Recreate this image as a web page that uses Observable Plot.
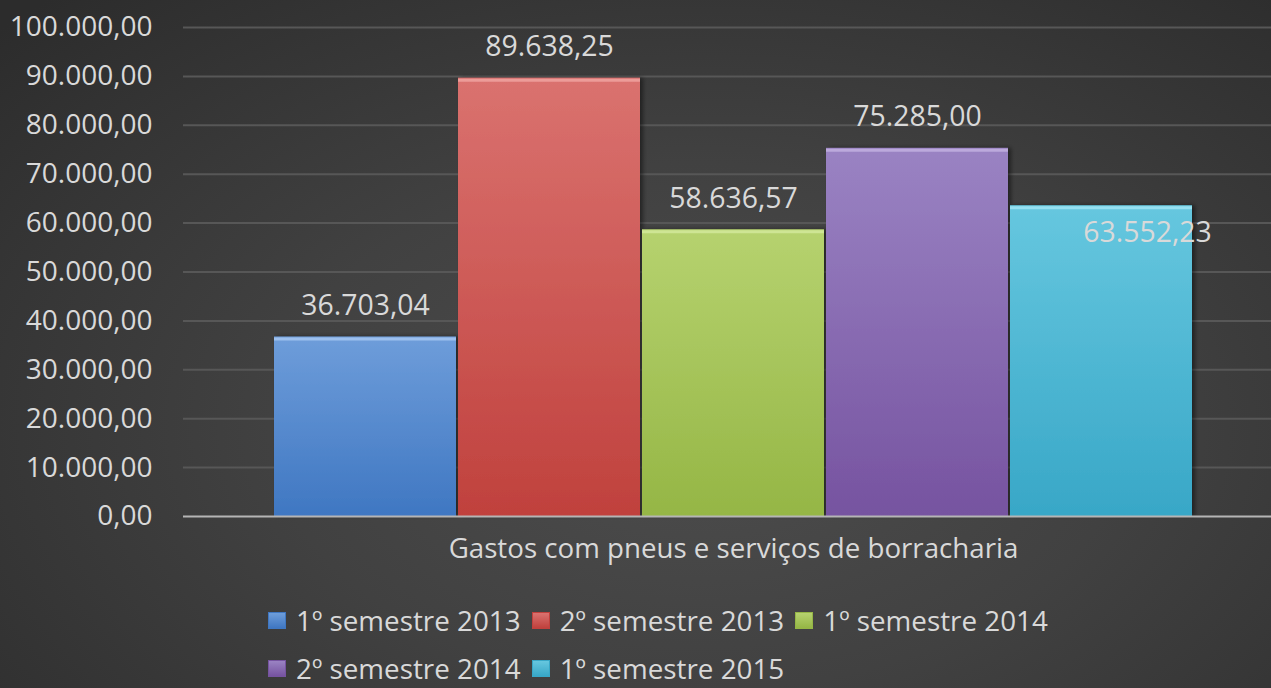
<!DOCTYPE html>
<html>
<head>
<meta charset="utf-8">
<script src="https://cdn.jsdelivr.net/npm/d3@7"></script>
<script src="https://cdn.jsdelivr.net/npm/@observablehq/plot@0.6"></script>
<style>
  html, body { margin: 0; padding: 0; width: 1271px; height: 688px; overflow: hidden; }
  body {
    background: radial-gradient(ellipse 75% 85% at 55% 62%, #4d4d4d 0%, #414141 45%, #2c2c2c 100%);
    font-family: "Open Sans", sans-serif;
  }
  #chart svg { display: block; }
  #legend {
    display: flex; flex-wrap: wrap; width: 820px;
    margin-left: 268px; padding-top: 6px;
    line-height: 48px; font-size: 27.8px; color: #d9d9d9;
  }
  .item { display: inline-flex; align-items: center; margin-right: 11px; }
  .sw { width: 18px; height: 17px; margin-right: 10px; box-sizing: border-box; }
</style>
</head>
<body>
<div id="chart"></div>
<div id="legend"></div>
<script>
const series = ["1º semestre 2013", "2º semestre 2013", "1º semestre 2014", "2º semestre 2014", "1º semestre 2015"];
const values = [36703.04, 89638.25, 58636.57, 75285.00, 63552.23];
const category = "Gastos com pneus e serviços de borracharia";
const yTicks = [0, 10000, 20000, 30000, 40000, 50000, 60000, 70000, 80000, 90000, 100000];

const topColors = ["#6e9dda", "#da726f", "#b6d26f", "#9a83c3", "#66c7df"];
const bottomColors = ["#3f77c2", "#c0413d", "#95b645", "#7653a0", "#38a7c7"];
const highlight = ["#a9c9f2", "#f0a6a3", "#d5ea9e", "#c4b3e2", "#a3e6f5"];

const data = series.map((s, i) => ({s, v: values[i]}));
const fmt = d3.formatLocale({decimal: ",", thousands: ".", grouping: [3], currency: ["", ""]}).format(",.2f");

const plot = Plot.plot({
  width: 1271,
  height: 590,
  marginLeft: 183,
  marginRight: 0,
  marginTop: 27,
  marginBottom: 74,
  style: {background: "transparent", fontFamily: "Open Sans", fontSize: "28px", color: "#d9d9d9", overflow: "visible"},
  x: {domain: series, range: [273, 1193], paddingInner: 0.01, paddingOuter: 0, axis: null},
  y: {domain: [0, 100000], axis: null},
  color: {domain: series, range: series.map((_, i) => `url(#g${i})`)},
  marks: [
    Plot.ruleY(yTicks.slice(1), {stroke: "#575757", strokeWidth: 2}),
    Plot.axisY({ticks: yTicks, tickFormat: fmt, tickSize: 0, tickPadding: 31, fontSize: 28, fill: "#d9d9d9", label: null}),
    Plot.barY(data, {x: "s", y: "v", fill: "s"}),
    Plot.tickY(data, {x: "s", y: "v", stroke: (d, i) => highlight[i], strokeWidth: 3, dy: 2, strokeOpacity: 0.8}),
    Plot.ruleY([0], {stroke: "#b5b5b5", strokeWidth: 2}),
    Plot.text(data.slice(0, 4), {x: "s", y: "v", text: d => fmt(d.v), dy: -31, fontSize: 28.4, fill: "#d9d9d9"}),
    Plot.text(data.slice(4), {x: "s", y: "v", text: d => fmt(d.v), dx: 46, dy: 27, fontSize: 28.4, fill: "#d9d9d9"}),
    Plot.text([category], {x: () => series[2], frameAnchor: "bottom", dy: 41, fontSize: 27.7, fill: "#d9d9d9"})
  ]
});

const svg = d3.select(plot);
const defs = svg.insert("defs", ":first-child");
series.forEach((s, i) => {
  const g = defs.append("linearGradient").attr("id", `g${i}`).attr("x1", 0).attr("y1", 0).attr("x2", 0).attr("y2", 1);
  g.append("stop").attr("offset", "0%").attr("stop-color", topColors[i]);
  g.append("stop").attr("offset", "100%").attr("stop-color", bottomColors[i]);
});
const f = defs.append("filter").attr("id", "sh").attr("x", "-5%").attr("y", "-5%").attr("width", "115%").attr("height", "110%");
f.append("feDropShadow").attr("dx", 3).attr("dy", 0).attr("stdDeviation", 2).attr("flood-color", "#000").attr("flood-opacity", 0.45);
svg.select('g[aria-label="bar"]').attr("filter", "url(#sh)");
document.getElementById("chart").appendChild(plot);

const legend = document.getElementById("legend");
series.forEach((s, i) => {
  const item = document.createElement("span");
  item.className = "item";
  const sw = document.createElement("span");
  sw.className = "sw";
  sw.style.background = `linear-gradient(${topColors[i]}, ${bottomColors[i]})`;
  sw.style.border = `1px solid ${bottomColors[i]}`;
  const t = document.createElement("span");
  t.textContent = s;
  item.appendChild(sw);
  item.appendChild(t);
  legend.appendChild(item);
});
</script>
</body>
</html>
